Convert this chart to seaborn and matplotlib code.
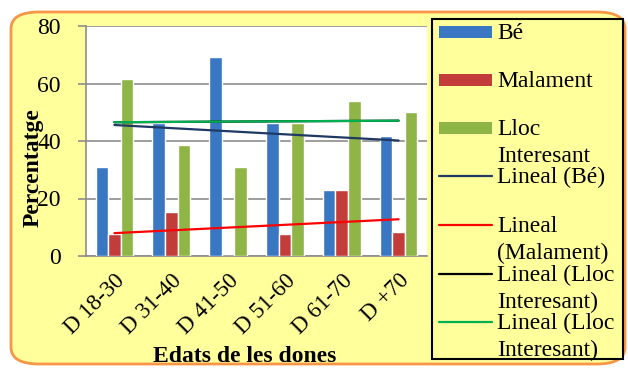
import numpy as np
import pandas as pd
import seaborn as sns
import matplotlib.pyplot as plt
from matplotlib.patches import FancyBboxPatch, Rectangle
from matplotlib.lines import Line2D

# data (percentages)
categories = ['D 18-30', 'D 31-40', 'D 41-50', 'D 51-60', 'D 61-70', 'D +70']
be = [30.8, 46.2, 69.2, 46.2, 23.1, 41.7]
malament = [7.7, 15.4, 0.0, 7.7, 23.1, 8.3]
lloc = [61.5, 38.5, 30.8, 46.2, 53.8, 50.0]
series_names = ['Bé', 'Malament', 'Lloc Interesant']
bar_colors = ['#3A77C3', '#C23D3A', '#8EB545']

W, H = 628, 369
SERIF = 'Liberation Serif'

def fx(x):
    return x / W

def fy(y):
    return 1 - y / H

# long table for seaborn
df = pd.DataFrame({
    'cat': categories * 3,
    'serie': [series_names[0]] * 6 + [series_names[1]] * 6 + [series_names[2]] * 6,
    'val': be + malament + lloc,
})

sns.set_style('white')
plt.rcParams['font.family'] = [SERIF, 'DejaVu Serif']
plt.rcParams['text.color'] = 'black'
plt.rcParams['xtick.labelcolor'] = 'black'
plt.rcParams['ytick.labelcolor'] = 'black'

fig = plt.figure(figsize=(W / 100, H / 100), dpi=100)
fig.patch.set_facecolor('white')

# yellow rounded chart area with orange border
bg = FancyBboxPatch((fx(11), fy(364)), fx(614), (352) / H,
                    boxstyle='round,pad=0,rounding_size=0.045',
                    transform=fig.transFigure, facecolor='#FFFF9C',
                    edgecolor='#F79646', linewidth=2, zorder=0)
fig.add_artist(bg)

ax = fig.add_axes([fx(86), fy(256), fx(427) - fx(86), (256 - 26) / H])
ax.set_facecolor('white')

sns.barplot(data=df, x='cat', y='val', hue='serie', palette=bar_colors,
            width=0.66, saturation=1, ax=ax, legend=False, zorder=3)

# linear trend lines
xs = np.arange(len(categories))
trend_colors = ['#1F3864', '#FF0000', '#000000', '#00B050']
trend_data = [be, malament, lloc, lloc]
for vals, c in zip(trend_data, trend_colors):
    k, b = np.polyfit(xs, vals, 1)
    ax.plot(xs, k * xs + b, color=c, lw=1.6, zorder=4)

ax.set_xlim(-0.5, len(categories) - 0.5)
ax.set_ylim(0, 80)
ax.yaxis.grid(True, color='#8C8C8C', lw=1.2, zorder=0)
ax.set_axisbelow(True)
for s in ['top', 'right']:
    ax.spines[s].set_visible(False)
for s in ['left', 'bottom']:
    ax.spines[s].set_color('#8C8C8C')
    ax.spines[s].set_linewidth(1.2)

ax.set_xticks(xs)
ax.set_xticklabels(categories, rotation=45, ha='right', rotation_mode='anchor',
                   fontsize=16.5, fontfamily=SERIF)
ax.set_yticks([0, 20, 40, 60, 80])
ax.set_yticklabels(['0', '20', '40', '60', '80'], fontsize=17, fontfamily=SERIF)
ax.set_xticks(np.arange(-0.5, len(categories), 1), minor=True)
ax.tick_params(axis='x', which='major', length=0, pad=10)
ax.tick_params(axis='x', which='minor', length=5, color='#8C8C8C', width=1.2,
               direction='out')
ax.tick_params(axis='y', length=6, color='#8C8C8C', width=1.2, pad=12, left=True)
ax.set_xlabel('')
ax.set_ylabel('')

fig.text(fx(245), fy(362), 'Edats de les dones', ha='center', va='baseline',
         fontsize=17, fontweight='bold', fontfamily=SERIF)
fig.text(fx(33), fy(168), 'Percentatge', ha='center', va='center',
         rotation=90, fontsize=17, fontweight='bold', fontfamily=SERIF)

# legend box drawn by hand to keep Excel's wrapped labels
lg = Rectangle((fx(432), fy(359)), fx(623) - fx(432), (359 - 19) / H,
               transform=fig.transFigure, facecolor='#FFFF9C',
               edgecolor='black', linewidth=1.5, zorder=5)
fig.add_artist(lg)

legend_labels = [['Bé'], ['Malament'], ['Lloc', 'Interesant'], ['Lineal (Bé)'],
                 ['Lineal', '(Malament)'], ['Lineal (Lloc', 'Interesant)'],
                 ['Lineal (Lloc', 'Interesant)']]
legend_y = [32, 80, 128, 176, 225, 274, 322]
handle_colors = bar_colors + trend_colors
for i, (lab, yy, c) in enumerate(zip(legend_labels, legend_y, handle_colors)):
    if i < 3:
        fig.add_artist(Rectangle((fx(439), fy(yy + 6)), fx(53), 12 / H,
                                 transform=fig.transFigure, facecolor=c,
                                 edgecolor='none', zorder=6))
    else:
        fig.add_artist(Line2D([fx(439), fx(492)], [fy(yy), fy(yy)],
                              transform=fig.transFigure, color=c, lw=1.6,
                              zorder=6))
    for j, part in enumerate(lab):
        fig.text(fx(497), fy(yy + 7 + j * 27), part, ha='left', va='baseline',
                 fontsize=17, fontfamily=SERIF, zorder=7)

fig.savefig('out.png', dpi=100, facecolor='white')
